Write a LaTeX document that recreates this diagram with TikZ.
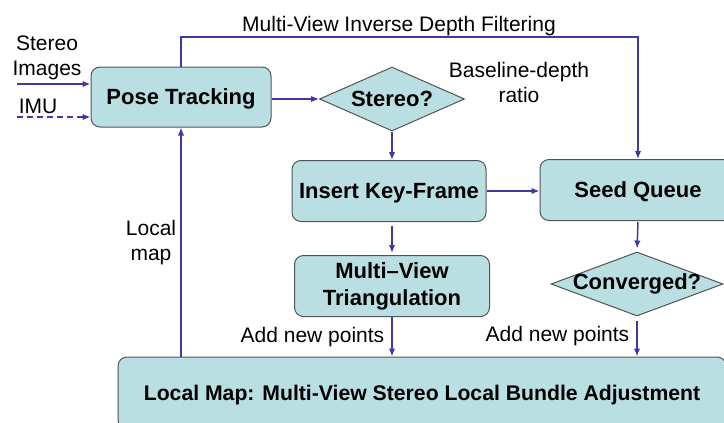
\documentclass[tikz,border=0pt]{standalone}
\usepackage{fontspec}
\setmainfont{Liberation Sans}
\usepackage{tikz}
\usetikzlibrary{arrows.meta, shapes.geometric, positioning}
\definecolor{boxfill}{RGB}{185, 223, 226}
\definecolor{boxline}{RGB}{80, 84, 88}
\definecolor{flowblue}{RGB}{62, 58, 160}

\begin{document}
\begin{tikzpicture}[
  x=1pt, y=-1pt,
  block/.style={draw=boxline, fill=boxfill, rounded corners=9pt, line width=1pt,
              inner sep=0pt, align=center, font=\fontsize{22}{27}\selectfont\bfseries},
  oneline/.style={text height=15.5pt, text depth=0pt},
  decision/.style={diamond, draw=boxline, fill=boxfill, line width=1pt, inner sep=-6pt,
              align=center, font=\fontsize{22}{26}\selectfont\bfseries},
  flow/.style={-{Latex[length=8pt, width=6.5pt]}, draw=flowblue, line width=1.5pt},
  note/.style={font=\fontsize{21}{25}\selectfont, align=center, inner sep=0pt},
]

% page frame
\clip (0,0) rectangle (724,423);

% Tracking front end
\node[block, oneline, minimum width=180pt, minimum height=60pt] (pose) at (181, 97) {Pose Tracking};
\node[decision, aspect=2.27, minimum width=145pt, minimum height=64pt] (stereo) at (392, 99) {Stereo?};

% Key-frames and seeds
\node[block, oneline, minimum width=194pt, minimum height=61pt] (ins) at (389, 191) {Insert Key-Frame};
\node[block, oneline, minimum width=196pt, minimum height=61pt] (seed) at (638, 190) {Seed Queue};
\node[block, minimum width=195pt, minimum height=61pt] (tri) at (392, 286) {Multi--View\\Triangulation};
\node[decision, aspect=2.7, minimum width=172pt, minimum height=64pt] (conv) at (637, 284) {Converged?};

% Back end
\node[block, oneline, minimum width=608pt, minimum height=72pt, font=\fontsize{21.2}{26}\selectfont\bfseries]
  (lmap) at (422, 393) {Local Map: Multi-View Stereo Local Bundle Adjustment};

% Inputs
\coordinate (stin) at (17, 84);
\coordinate (imuin) at (17, 117);
\node[note, anchor=base] (stlbl) at (47, 75) {Stereo\\Images};
\node[note, anchor=base] (imulbl) at (38, 113) {IMU};
\draw[flow] (stin) -- (stin -| pose.west);
\draw[flow, dashed, dash pattern=on 6pt off 4pt] (imuin) -- (imuin -| pose.west);

% Labels
\node[note, anchor=base] (filtlbl) at (399, 31) {Multi-View Inverse Depth Filtering};
\node[note, anchor=base] (ratio) at (519, 102) {Baseline-depth\\ratio};
\node[note, anchor=base] (maplbl) at (151, 260) {Local\\map};

% Connectors
\coordinate (filt) at (400, 37);
\draw[flow] (pose.north) |- (filt) -| (seed.north);
\draw[flow] (pose.east |- stereo.west) -- (stereo.west);
\draw[flow] (stereo.south) -- (stereo.south |- ins.north);
\draw[flow] (ins.east) -- (ins.east -| seed.west);
\draw[flow, shorten <=4pt, shorten >=2pt] (ins.south -| tri.north) -- (tri.north);
\draw[flow, shorten <=1pt, shorten >=3pt] (seed.south) -- (conv.north);
\draw[flow] (tri.south) -- (tri.south |- lmap.north)
  node[note, midway, left=7pt] {Add new points};
\draw[flow, shorten <=4pt] (conv.south) -- (conv.south |- lmap.north)
  node[note, midway, left=7pt] {Add new points};
\draw[flow] (lmap.north -| pose.south) -- (pose.south);

\end{tikzpicture}
\end{document}
